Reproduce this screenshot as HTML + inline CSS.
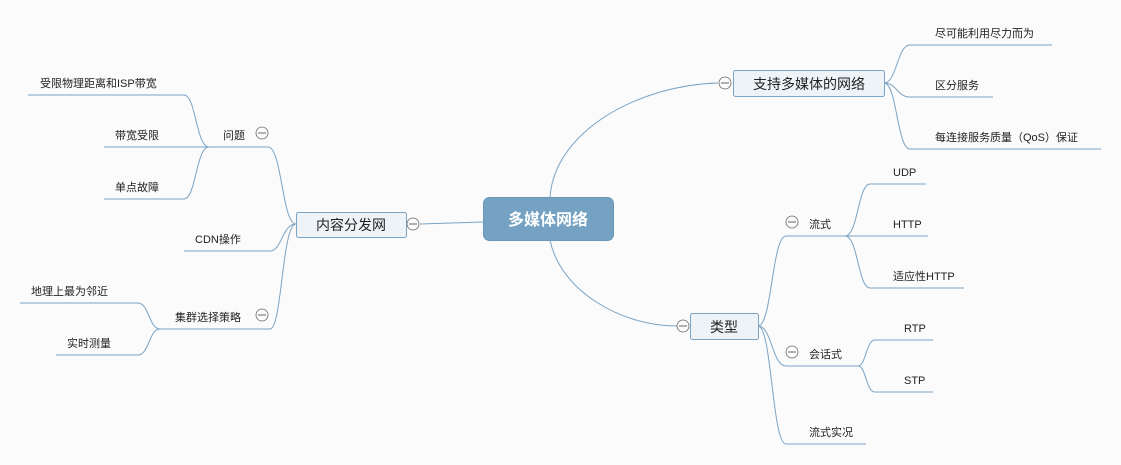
<!DOCTYPE html>
<html><head><meta charset="utf-8"><style>
html,body{margin:0;padding:0;background:#fbfbfb;}
svg{display:block;}
text{font-family:"Liberation Sans","Noto Sans CJK SC",sans-serif;fill:#222;}
.l{font-size:11px;}
.m{font-size:14px;}
path,line{stroke:#7ba3c4;fill:none;stroke-width:1;}
.c{fill:#fbfbfb;stroke:#666;stroke-width:0.8;}
</style></head><body>
<svg width="1121" height="465" viewBox="0 0 1121 465">
<!-- center to left -->
<path d="M420,224 L483,222"/>
<!-- center to right curves -->
<path d="M550,197 C555,130 640,85 718,83"/>
<path d="M550,240 C560,290 620,326 677,326"/>

<!-- 内容分发网 children -->
<path d="M296,224 C282,224 282,147 268,147"/>
<path d="M296,224 C282,224 282,251 270,251"/>
<path d="M296,224 C282,224 282,329 270,329"/>
<line x1="209" y1="147" x2="268" y2="147"/>
<line x1="184" y1="251" x2="270" y2="251"/>
<line x1="160" y1="329" x2="270" y2="329"/>
<!-- 问题 children -->
<path d="M209,147 C196,147 196,95 184,95"/><line x1="28" y1="95" x2="184" y2="95"/>
<line x1="104" y1="147" x2="209" y2="147"/>
<path d="M209,147 C196,147 196,199 184,199"/><line x1="104" y1="199" x2="184" y2="199"/>
<!-- 集群 children -->
<path d="M160,329 C149,329 149,303 138,303"/><line x1="20" y1="303" x2="138" y2="303"/>
<path d="M160,329 C149,329 149,355 138,355"/><line x1="56" y1="355" x2="138" y2="355"/>

<!-- 支持多媒体 children -->
<path d="M884,83 C897,83 897,45 910,45"/><line x1="910" y1="45" x2="1052" y2="45"/>
<path d="M884,83 C897,83 897,97 910,97"/><line x1="910" y1="97" x2="993" y2="97"/>
<path d="M884,83 C897,83 897,149 910,149"/><line x1="910" y1="149" x2="1101" y2="149"/>

<!-- 类型 children -->
<path d="M758,326 C772,326 772,236 786,236"/><line x1="786" y1="236" x2="845" y2="236"/>
<path d="M758,326 C772,326 772,366 786,366"/><line x1="786" y1="366" x2="858" y2="366"/>
<path d="M758,326 C772,326 772,444 786,444"/><line x1="786" y1="444" x2="866" y2="444"/>
<!-- 流式 children -->
<path d="M845,236 C858,236 858,184 870,184"/><line x1="870" y1="184" x2="926" y2="184"/>
<line x1="845" y1="236" x2="928" y2="236"/>
<path d="M845,236 C858,236 858,288 870,288"/><line x1="870" y1="288" x2="964" y2="288"/>
<!-- 会话式 children -->
<path d="M858,366 C866,366 866,340 875,340"/><line x1="875" y1="340" x2="933" y2="340"/>
<path d="M858,366 C866,366 866,392 875,392"/><line x1="875" y1="392" x2="933" y2="392"/>

<!-- boxes -->
<rect x="483.5" y="197.5" width="130" height="43" rx="6" fill="#75a1c2" stroke="#6b97b8"/>
<text x="548" y="225" text-anchor="middle" style="font-size:16px;font-weight:bold;fill:#fff">多媒体网络</text>
<rect x="296.5" y="212.5" width="110" height="25" rx="2" fill="#eef3f8" stroke="#7ba3c4"/>
<text x="351" y="230" text-anchor="middle" class="m">内容分发网</text>
<rect x="733.5" y="70.5" width="151" height="26" rx="2" fill="#eef3f8" stroke="#7ba3c4"/>
<text x="809" y="89" text-anchor="middle" class="m">支持多媒体的网络</text>
<rect x="690.5" y="313.5" width="68" height="26" rx="2" fill="#eef3f8" stroke="#7ba3c4"/>
<text x="724" y="332" text-anchor="middle" class="m">类型</text>

<!-- collapse circles -->
<g>
<circle class="c" cx="413" cy="224" r="6"/><line x1="409" y1="224" x2="417" y2="224" style="stroke:#666"/>
<circle class="c" cx="262" cy="133" r="6"/><line x1="258" y1="133" x2="266" y2="133" style="stroke:#666"/>
<circle class="c" cx="262" cy="315" r="6"/><line x1="258" y1="315" x2="266" y2="315" style="stroke:#666"/>
<circle class="c" cx="725" cy="83" r="6"/><line x1="721" y1="83" x2="729" y2="83" style="stroke:#666"/>
<circle class="c" cx="683" cy="326" r="6"/><line x1="679" y1="326" x2="687" y2="326" style="stroke:#666"/>
<circle class="c" cx="792" cy="222" r="6"/><line x1="788" y1="222" x2="796" y2="222" style="stroke:#666"/>
<circle class="c" cx="792" cy="352" r="6"/><line x1="788" y1="352" x2="796" y2="352" style="stroke:#666"/>
</g>

<!-- labels -->
<text class="l" x="40" y="87">受限物理距离和ISP带宽</text>
<text class="l" x="223" y="139">问题</text>
<text class="l" x="115" y="139">带宽受限</text>
<text class="l" x="115" y="191">单点故障</text>
<text class="l" x="195" y="243">CDN操作</text>
<text class="l" x="175" y="321">集群选择策略</text>
<text class="l" x="31" y="295">地理上最为邻近</text>
<text class="l" x="67" y="347">实时测量</text>

<text class="l" x="935" y="37">尽可能利用尽力而为</text>
<text class="l" x="935" y="89">区分服务</text>
<text class="l" x="935" y="141">每连接服务质量（QoS）保证</text>

<text class="l" x="809" y="228">流式</text>
<text class="l" x="893" y="176">UDP</text>
<text class="l" x="893" y="228">HTTP</text>
<text class="l" x="893" y="280">适应性HTTP</text>
<text class="l" x="809" y="358">会话式</text>
<text class="l" x="904" y="332">RTP</text>
<text class="l" x="904" y="384">STP</text>
<text class="l" x="809" y="436">流式实况</text>
</svg>
</body></html>
